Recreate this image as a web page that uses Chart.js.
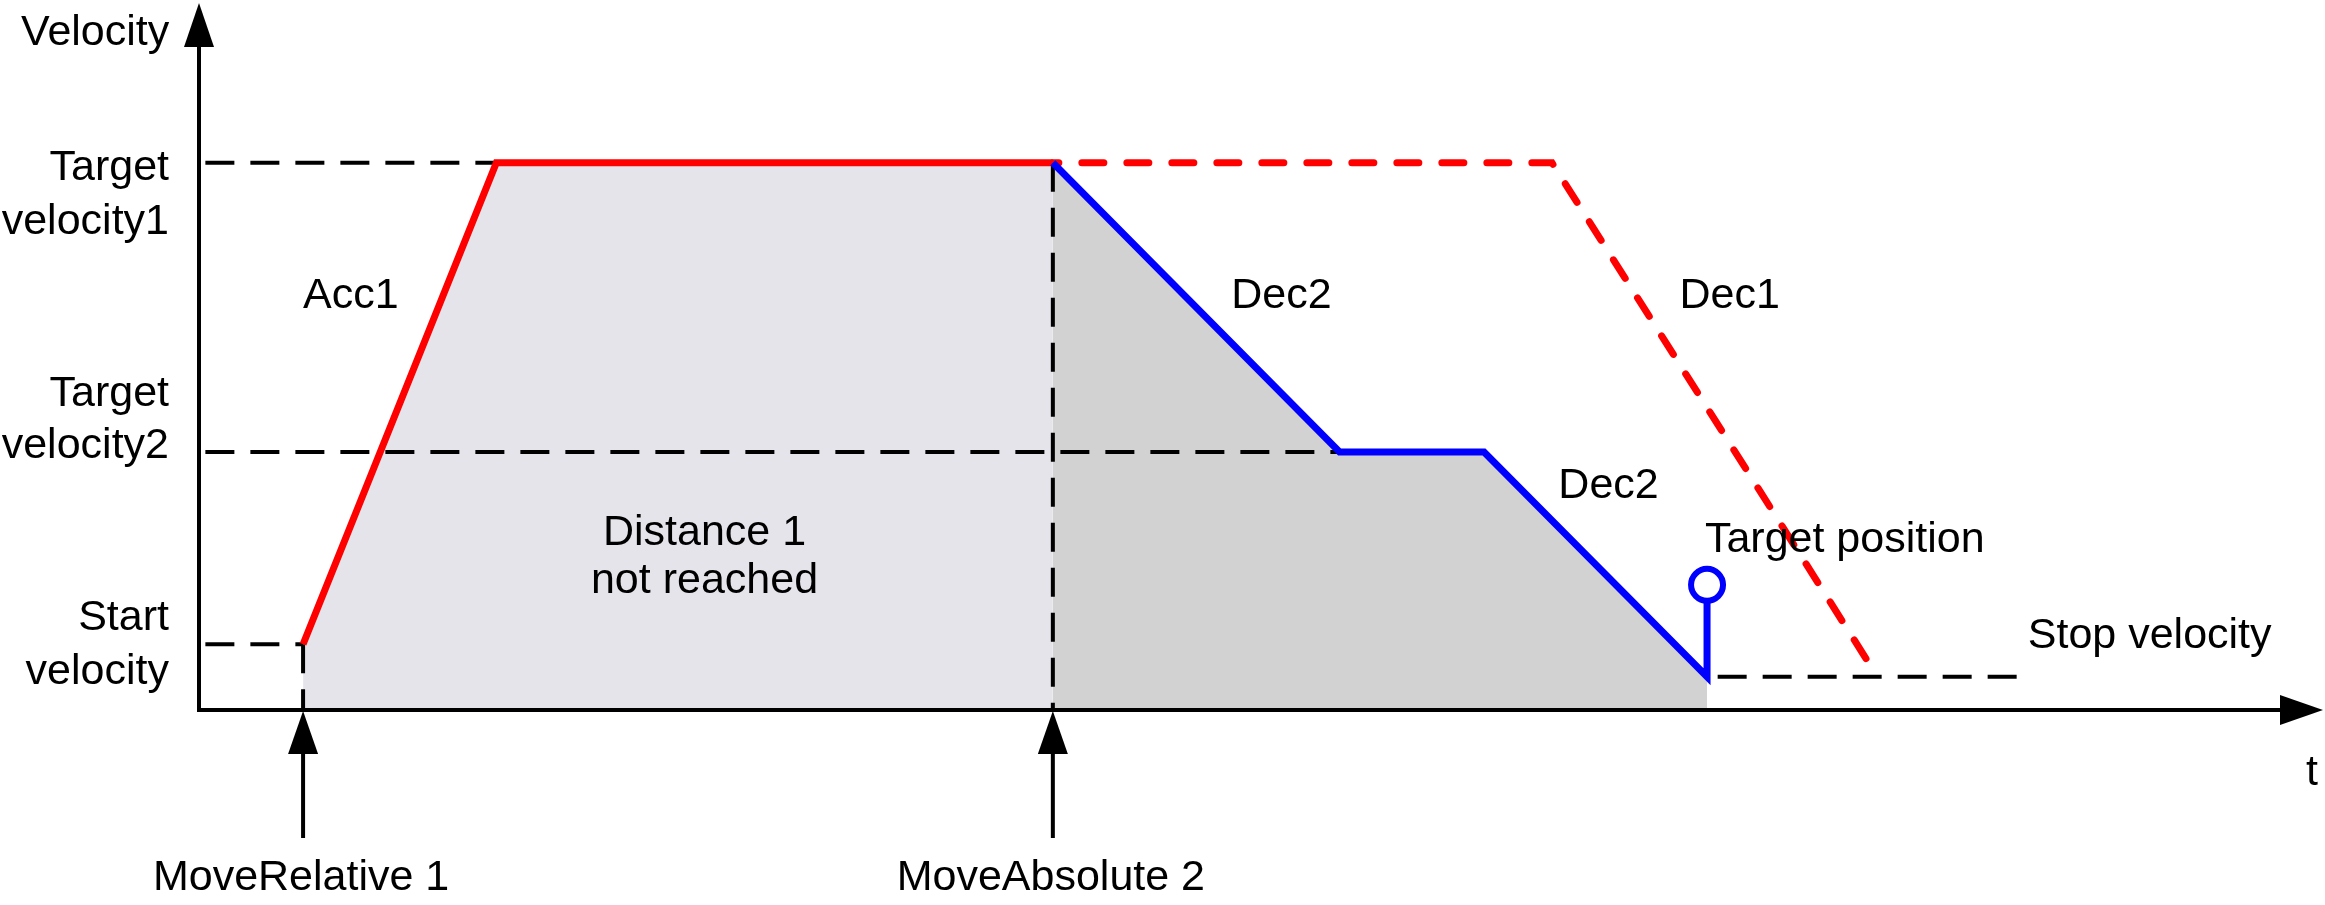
<!DOCTYPE html>
<html>
<head>
<meta charset="utf-8">
<title>Velocity profile</title>
<script src="https://cdn.jsdelivr.net/npm/chart.js@4.4.1/dist/chart.umd.min.js"></script>
<style>
  html, body { margin: 0; padding: 0; background: #fff; }
  canvas { display: block; }
</style>
</head>
<body>
<canvas id="velocity-chart" width="2325" height="905"></canvas>
<script>
// both axes run 0..100 in arbitrary units
const velocityLevels = [77.4, 36.5, 9.3, 4.7]; // target1, target2, start, stop
const levelLabels = [["Target", "velocity1"], ["Target", "velocity2"], ["Start", "velocity"]];
const eventTimes = [4.9, 40.2];
const eventLabels = ["MoveRelative 1", "MoveAbsolute 2"];

// MoveRelative 1 (red), executed part
const move1Time = [4.9, 14.0, 40.2];
const move1Vel = [9.3, 77.4, 77.4];
// MoveRelative 1, part that was never run (red dashed)
const move1PlanTime = [40.2, 63.7, 78.5];
const move1PlanVel = [77.4, 77.4, 7.2];
// MoveAbsolute 2 (blue), last point is the target position marker stick
const move2Time = [40.2, 53.7, 60.5, 71.0, 71.0];
const move2Vel = [77.4, 36.5, 36.5, 4.7, 17.7];
const targetTime = [71.0];
const targetVel = [17.7];
// stop velocity guide
const stopTime = [71.5, 85.6];

const pts = (ts, vs) => ts.map((t, i) => ({ x: t, y: vs[i] }));

const FONT = '43px "Liberation Sans", Arial, sans-serif';
const guide = (data) => ({
  data, showLine: true, borderColor: "#000", borderWidth: 4,
  borderDash: [29, 16], pointRadius: 0, order: 4,
});

const datasets = [
  // target position marker
  {
    data: pts(targetTime, targetVel), showLine: false, pointRadius: 16,
    pointBorderWidth: 6, pointBorderColor: "#0000ff", pointBackgroundColor: "#fff", order: 0,
  },
  {
    data: pts(move2Time, move2Vel), showLine: true, borderColor: "#0000ff",
    borderWidth: 7, pointRadius: 0, order: 1,
  },
  {
    data: pts(move1Time, move1Vel), showLine: true, borderColor: "#ff0000",
    borderWidth: 7, pointRadius: 0, order: 2,
  },
  {
    data: pts(move1PlanTime, move1PlanVel), showLine: true, borderColor: "#ff0000",
    borderWidth: 7, borderDash: [22, 23], borderDashOffset: 16, borderCapStyle: "round",
    pointRadius: 0, order: 3,
  },
  // dashed helper lines
  guide([{ x: 0.3, y: velocityLevels[0] }, { x: move1Time[1], y: velocityLevels[0] }]),
  guide([{ x: 0.3, y: velocityLevels[1] }, { x: move2Time[1], y: velocityLevels[1] }]),
  guide([{ x: 0.3, y: velocityLevels[2] }, { x: move1Time[0], y: velocityLevels[2] }]),
  guide([{ x: eventTimes[0], y: move1Vel[0] }, { x: eventTimes[0], y: 0 }]),
  guide([{ x: eventTimes[1], y: move1Vel[2] }, { x: eventTimes[1], y: 0 }]),
  guide([{ x: stopTime[0], y: velocityLevels[3] }, { x: stopTime[1], y: velocityLevels[3] }]),
  // distance areas
  {
    data: pts(move1Time, move1Vel), showLine: true, borderWidth: 0, pointRadius: 0,
    fill: "origin", backgroundColor: "#e4e4ea", order: 5,
  },
  {
    data: pts(move2Time.slice(0, 4), move2Vel.slice(0, 4)), showLine: true, borderWidth: 0,
    pointRadius: 0, fill: "origin", backgroundColor: "#d2d2d2", order: 5,
  },
];

// label anchors in data units: [text, t, v, align]
const textItems = [
  ["Velocity", -1.4, 94.1, "right"],
  ["Acc1", 4.9, 56.9, "left"],
  ["Dec2", 48.6, 56.9, "left"],
  ["Dec1", 69.7, 56.9, "left"],
  ["Dec2", 64.0, 30.0, "left"],
  ["Distance 1", 23.8, 23.3, "center"],
  ["not reached", 23.8, 16.5, "center"],
  ["Target position", 70.9, 22.3, "left"],
  ["Stop velocity", 86.1, 8.8, "left"],
  ["t", 99.2, -10.6, "left"],
];
// baseline offsets (px) of the two lines of each level label
const levelLabelOffsets = [[17, 71], [-46, 6], [-14, 40]];

function triangle(ctx, a, b, c) {
  ctx.beginPath();
  ctx.moveTo(a[0], a[1]); ctx.lineTo(b[0], b[1]); ctx.lineTo(c[0], c[1]);
  ctx.closePath();
  ctx.fill();
}

const diagramPlugin = {
  id: "diagram",
  afterDraw(chart) {
    const { ctx, scales: { x, y } } = chart;
    const x0 = x.getPixelForValue(0), y0 = y.getPixelForValue(0);
    const xEnd = x.getPixelForValue(100), yEnd = y.getPixelForValue(100);
    ctx.save();
    ctx.fillStyle = "#000";
    ctx.strokeStyle = "#000";
    ctx.lineWidth = 4;

    // axes with arrow heads
    ctx.beginPath();
    ctx.moveTo(x0, yEnd + 44);
    ctx.lineTo(x0, y0);
    ctx.lineTo(xEnd - 43, y0);
    ctx.stroke();
    triangle(ctx, [x0, yEnd], [x0 - 15, yEnd + 44], [x0 + 15, yEnd + 44]);
    triangle(ctx, [xEnd, y0], [xEnd - 43, y0 - 15], [xEnd - 43, y0 + 15]);

    ctx.font = FONT;
    ctx.textBaseline = "alphabetic";

    // command arrows under the time axis
    eventTimes.forEach((t, i) => {
      const px = x.getPixelForValue(t);
      ctx.beginPath();
      ctx.moveTo(px, y0 + 44);
      ctx.lineTo(px, y0 + 128);
      ctx.stroke();
      triangle(ctx, [px, y0 + 1], [px - 15, y0 + 44], [px + 15, y0 + 44]);
      ctx.textAlign = "center";
      ctx.fillText(eventLabels[i], px - 2, y0 + 180);
    });

    // level labels left of the velocity axis
    ctx.textAlign = "right";
    levelLabels.forEach((lines, i) => {
      const py = y.getPixelForValue(velocityLevels[i]);
      lines.forEach((s, j) => ctx.fillText(s, x0 - 30, py + levelLabelOffsets[i][j]));
    });

    textItems.forEach(([s, t, v, align]) => {
      ctx.textAlign = align;
      ctx.fillText(s, x.getPixelForValue(t), y.getPixelForValue(v));
    });
    ctx.restore();
  },
};

new Chart(document.getElementById("velocity-chart"), {
  type: "scatter",
  data: { datasets },
  options: {
    responsive: false,
    animation: false,
    layout: { autoPadding: false, padding: { left: 199, right: 2, top: 3, bottom: 195 } },
    scales: {
      x: { type: "linear", min: 0, max: 100, display: false },
      y: { type: "linear", min: 0, max: 100, display: false },
    },
    plugins: { legend: { display: false }, tooltip: { enabled: false } },
  },
  plugins: [diagramPlugin],
});
</script>
</body>
</html>
